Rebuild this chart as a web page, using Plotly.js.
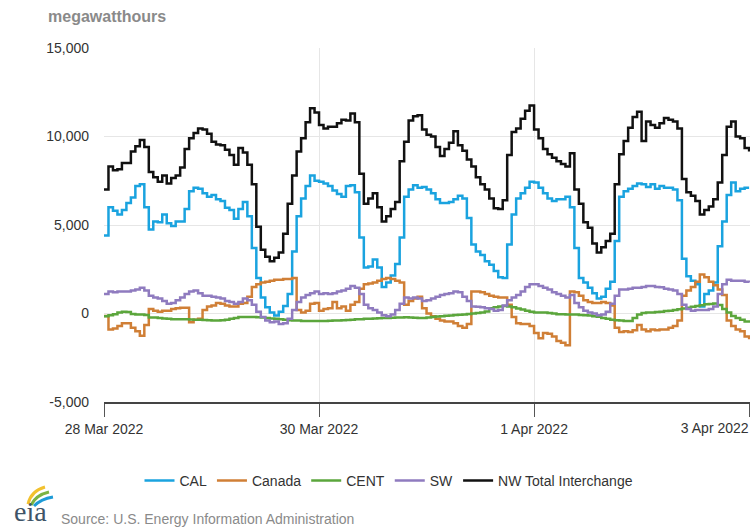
<!DOCTYPE html>
<html>
<head>
<meta charset="utf-8">
<script src="https://cdn.plot.ly/plotly-3.0.1.min.js"></script>
<style>html,body{margin:0;padding:0;background:#fff;}#chart{width:756px;height:531px;}</style>
</head>
<body>
<div id="chart"></div>
<script>
// Hourly values, 28 Mar 2022 00:00 -> 3 Apr 2022 00:00 (145 points), megawatthours
const startDate = Date.UTC(2022, 2, 28);
const tickVals = ['2022-03-28', '2022-03-30', '2022-04-01', '2022-04-03'];
const tickLabels = ['28 Mar 2022', '30 Mar 2022', '1 Apr 2022', '3 Apr 2022'];
const yTickVals = [-5000, 0, 5000, 10000, 15000];
const yTickLabels = ['-5,000', '0', '5,000', '10,000', '15,000'];
const seriesNames = ['CAL', 'Canada', 'CENT', 'SW', 'NW Total Interchange'];
const seriesColors = ['#1aa3df', '#d07f36', '#5ba63c', '#8f7bbf', '#111111'];

const cal = [
  4400, 6000, 5800, 5600, 5850, 6250, 6550, 7200, 7300, 6000, 4750, 5200, 5150, 5600, 5100, 4950, 5200, 5200, 5900, 6900, 7100, 7050, 6800, 6600,
  6700, 6450, 6350, 5980, 5850, 5350, 5900, 6300, 5500, 3700, 2000, 900, 350, 50, -120, 100, 420, 1100, 3500, 5500, 6500, 7200, 7800, 7500,
  7450, 7350, 7200, 6950, 6750, 6600, 7200, 7250, 6850, 4300, 2600, 2650, 3050, 2600, 1500, 1750, 2150, 2800, 4300, 6600, 7000, 7250, 7100, 7150,
  7000, 6800, 6450, 6250, 6250, 6300, 6450, 6650, 6500, 5400, 3900, 3500, 3300, 2950, 2750, 2400, 2050, 2000, 3900, 5600, 6500, 6800, 7100, 7450,
  7400, 7100, 6800, 6500, 6350, 6450, 6450, 6600, 6000, 3700, 2000, 1750, 1450, 1150, 850, 950, 1400, 1800, 4100, 6600, 6900, 7050, 7200, 7350,
  7300, 7150, 7300, 7050, 7200, 7100, 7100, 7000, 6400, 3100, 2100, 1850, 1650, 400, 1100, 1300, 1750, 3800, 5200, 6700, 7400, 6900, 7050, 7100, 7100
];
const canada = [
  -140, -900, -850, -700, -550, -550, -800, -1000, -1250, -650, 250, 150, 100, 150, 150, 250, 300, 330, 330, -500, -350, -300, 200, 400,
  450, 600, 550, 450, 400, 400, 550, 600, 950, 1500, 1650, 1750, 1800, 1850, 1900, 1900, 1950, 1950, 2000, 200, 50, 150, 550, 600,
  150, 250, 300, 650, 300, 400, 150, 500, 650, 1400, 1650, 1700, 1750, 1850, 1950, 2000, 1950, 1850, 1750, 500, 700, 850, 950, 300,
  0, -150, -300, -400, -450, -450, -550, -700, -800, -600, 1250, 1250, 1200, 1100, 1000, 950, 900, 900, 500, -200, -550, -600, -600, -700,
  -1100, -1400, -1100, -1150, -1300, -1550, -1650, -1800, 1250, 1200, 1000, 750, 650, 600, 600, 650, 600, 450, -800, -1050, -1000, -1050, -950, -650,
  -900, -1000, -900, -950, -900, -900, -800, -700, -400, 1000, 1300, 1500, 1800, 2200, 2050, 1800, 1600, 1350, 1050, -400, -700, -900, -1000, -1300, -1450
];
const cent = [
  -150, -100, -40, 50, 100, 80, -30, -50, -50, -80, -220, -230, -250, -280, -300, -320, -320, -320, -330, -340, -350, -350, -370, -380,
  -400, -400, -380, -350, -300, -250, -200, -200, -200, -200, -210, -230, -250, -280, -300, -320, -350, -380, -400, -400, -420, -420, -420, -420,
  -420, -420, -410, -400, -390, -380, -370, -350, -330, -320, -300, -290, -280, -270, -260, -250, -240, -230, -220, -210, -220, -240, -250, -250,
  -230, -200, -170, -150, -130, -110, -90, -70, -50, -30, 0, 30, 60, 120, 300, 350, 400, 420, 400, 350, 280, 220, 150, 100,
  50, 50, 50, 30, 0, -40, -40, -50, -60, -60, -80, -100, -120, -150, -190, -250, -300, -350, -380, -400, -420, -420, -250, -50,
  30, 50, 60, 80, 100, 140, 160, 200, 240, 280, 330, 380, 420, 470, 520, 540, 560, 480, 250, 50, -140, -250, -350, -450, -520
];
const sw = [
  1100, 1250, 1200, 1250, 1250, 1250, 1300, 1350, 1450, 1300, 1000, 900, 850, 700, 550, 600, 750, 900, 1100, 1250, 1300, 1150, 1000, 1000,
  950, 900, 850, 700, 650, 550, 650, 850, 750, 500, 100, -200, -400, -500, -450, -600, -550, -300, 200, 650, 900, 1050, 1150, 1250,
  1100, 1150, 1100, 1150, 1250, 1300, 1400, 1550, 1450, 1100, 500, 300, 200, 50, -100, -150, -50, 200, 550, 900, 850, 900, 850, 700,
  750, 850, 950, 1050, 1100, 1150, 1250, 1200, 950, 700, 400, 380, 350, 300, 250, 150, 200, 450, 750, 900, 1050, 1250, 1500, 1650,
  1650, 1550, 1450, 1350, 1200, 1100, 1000, 900, 1050, 600, 350, 150, 50, 0, -100, -50, 100, 550, 1000, 1350, 1350, 1400, 1450, 1450,
  1500, 1550, 1550, 1500, 1480, 1400, 1350, 1300, 1100, 500, 250, 150, 200, 200, 200, 250, 400, 1100, 1650, 1900, 1850, 1850, 1850, 1800, 1750
];
const nwTotal = [
  7000, 8300, 8100, 8150, 8500, 8500, 9150, 9450, 9800, 9400, 8000, 7700, 7450, 7800, 7350, 7650, 7800, 8250, 9300, 9900, 10200, 10450, 10400, 10150,
  9700, 9550, 9500, 9250, 8950, 8400, 9350, 9100, 8400, 7300, 4900, 3600, 3200, 2950, 3150, 3450, 4500, 6200, 7800, 9150, 9900, 10800, 11600, 11350,
  10650, 10450, 10550, 10550, 10750, 10950, 10900, 11300, 10800, 7900, 6200, 6500, 6800, 6000, 5200, 5500, 5900, 6300, 8600, 9700, 10900, 11150, 11200, 10400,
  10100, 10000, 9400, 8900, 9300, 9650, 10300, 9500, 9200, 8700, 8300, 7700, 7300, 7000, 6500, 5950, 5900, 6400, 8950, 10250, 10450, 11000, 11450, 11750,
  10400, 9900, 9300, 9000, 8800, 8600, 8450, 8300, 9050, 7000, 6200, 5150, 4850, 3950, 3450, 3750, 4100, 4500, 7300, 9000, 9750, 10500, 11100, 11400,
  9750, 10850, 10650, 10500, 10750, 11050, 10950, 10850, 10450, 7600, 6850, 6650, 6350, 5600, 5850, 6050, 6450, 7400, 8950, 10550, 10850, 10000, 9900, 9350, 9150
];

const times = cal.map((_, i) => new Date(startDate + i * 3600e3).toISOString().slice(0, 19).replace('T', ' '));
const allSeries = [cal, canada, cent, sw, nwTotal];

const FONT = '"Liberation Sans Narrow", "Arial Narrow", "Liberation Sans", Arial, sans-serif';
const xRange = ['2022-03-28 00:00:00', '2022-04-03 00:12:00'];

const traces = allSeries.map((vals, k) => ({
  type: 'scatter', mode: 'lines', x: times, y: vals, name: seriesNames[k],
  line: {color: seriesColors[k], width: 2.5, shape: 'hv'},
  hoverinfo: 'skip'
}));
// carrier trace so the overlaying axis (right-aligned last date label) is drawn
traces.unshift({type: 'scatter', mode: 'lines', x: [times[0]], y: [null], xaxis: 'x2', yaxis: 'y',
  showlegend: false, hoverinfo: 'skip', line: {color: 'rgba(0,0,0,0)'}});

// plot area in pixels: left 104, right 750, top 48, bottom 402
const L = 104, R = 750, T = 48, B = 402;
const px = (x) => (x - L) / (R - L);
const py = (y) => (B - y) / (B - T);
const arc = (x0, y0, cx, cy, x1, y1) => `M ${px(x0)} ${py(y0)} Q ${px(cx)} ${py(cy)} ${px(x1)} ${py(y1)}`;

const mainLabels = tickLabels.slice(0, 3).concat(['']);
const lastVal = [tickVals[3]], lastLabel = [tickLabels[3]];

const layout = {
  width: 756, height: 531,
  margin: {l: L, r: 756 - R, t: T, b: 531 - B, pad: 0},
  paper_bgcolor: '#fff', plot_bgcolor: '#fff',
  font: {family: FONT, size: 14, color: '#333'},
  showlegend: true,
  title: {
    text: 'megawatthours', xref: 'container', yref: 'container',
    x: 48 / 756, xanchor: 'left', y: 1 - 16 / 531, yanchor: 'middle',
    font: {family: FONT, size: 16, color: '#8a8a8a', weight: 'bold'}
  },
  xaxis: {
    type: 'date', range: xRange,
    tickmode: 'array', tickvals: tickVals, ticktext: mainLabels,
    showgrid: true, gridcolor: '#e6e6e6', gridwidth: 1,
    showline: true, linecolor: '#444', linewidth: 2,
    ticks: 'outside', ticklen: 13, tickwidth: 1, tickcolor: '#555',
    tickfont: {family: FONT, size: 14, color: '#333'},
    zeroline: false, fixedrange: true
  },
  xaxis2: {
    type: 'date', range: xRange, overlaying: 'x', side: 'bottom', anchor: 'y',
    tickmode: 'array', tickvals: lastVal, ticktext: lastLabel,
    ticklabelposition: 'outside left', ticklabelstandoff: 13,
    showgrid: false, showline: false, ticks: 'outside', ticklen: 13, tickcolor: 'rgba(0,0,0,0)',
    tickfont: {family: FONT, size: 14, color: '#333'},
    zeroline: false, fixedrange: true
  },
  yaxis: {
    range: [-5000, 15000], tickmode: 'array', tickvals: yTickVals, ticktext: yTickLabels,
    showgrid: true, gridcolor: '#e6e6e6', gridwidth: 1,
    zeroline: false, showline: false, ticks: '',
    ticklabelstandoff: 14,
    tickfont: {family: FONT, size: 14, color: '#333'}, fixedrange: true
  },
  legend: {
    orientation: 'h', x: px(389), xanchor: 'center', y: py(481), yanchor: 'middle',
    font: {family: FONT, size: 14, color: '#333'}, bgcolor: 'rgba(0,0,0,0)',
    itemwidth: 30, tracegroupgap: 0
  },
  annotations: [
    {text: 'Source: U.S. Energy Information Administration', xref: 'paper', yref: 'paper',
     x: px(59), y: py(519), xanchor: 'left', yanchor: 'middle', showarrow: false,
     font: {family: FONT, size: 14, color: '#8a8a8a'}},
    {text: 'eia', xref: 'paper', yref: 'paper', x: px(12), y: py(512), xanchor: 'left', yanchor: 'middle',
     showarrow: false, font: {family: '"Liberation Serif", "DejaVu Serif", serif', size: 28, color: '#3f5468'}}
  ],
  shapes: [
    {type: 'path', xref: 'paper', yref: 'paper', path: arc(28, 504, 31, 491, 45, 487), line: {color: '#f2c12e', width: 3}},
    {type: 'path', xref: 'paper', yref: 'paper', path: arc(31, 505, 36, 495, 49, 492), line: {color: '#7cb342', width: 3}},
    {type: 'path', xref: 'paper', yref: 'paper', path: arc(34, 506, 41, 499, 53, 497), line: {color: '#1e9bd7', width: 3}}
  ]
};

Plotly.newPlot('chart', traces, layout, {displayModeBar: false, staticPlot: true});
</script>
</body>
</html>
